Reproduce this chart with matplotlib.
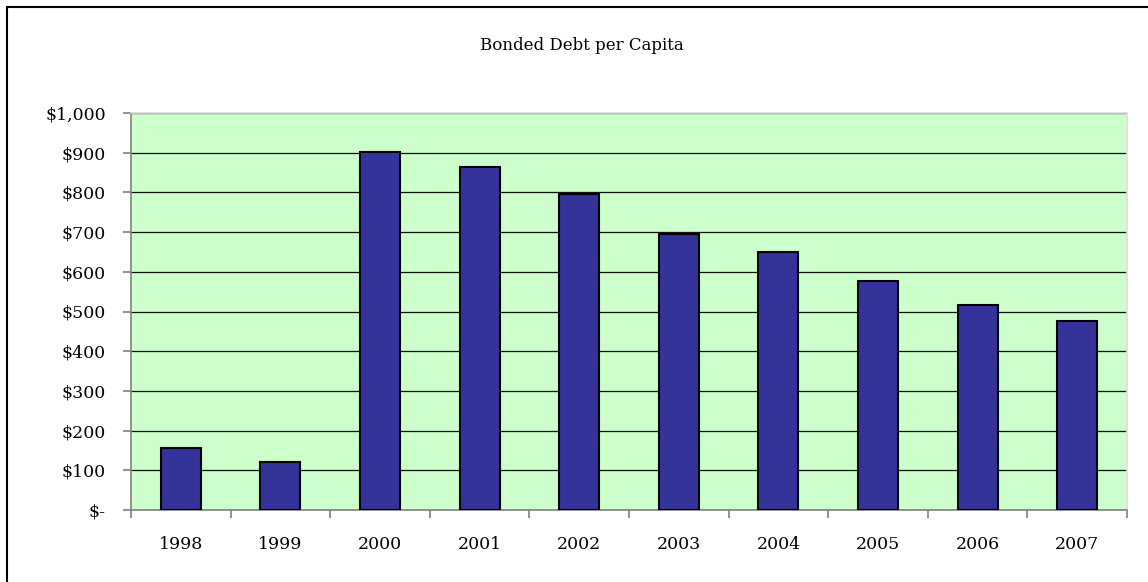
import matplotlib.pyplot as plt
import matplotlib.ticker as mticker
from matplotlib.patches import Rectangle
import numpy as np

# bonded debt per capita by year
years = ['1998', '1999', '2000', '2001', '2002', '2003', '2004', '2005', '2006', '2007']
debt = [157, 121, 901, 863, 795, 696, 651, 578, 517, 476]

plt.rcParams['font.family'] = ['DejaVu Serif']

W, H = 1148, 582
fig = plt.figure(figsize=(W / 100, H / 100), dpi=100)

# chart area border (runs off the right and bottom edges)
fig.patches.append(Rectangle((7 / W, -0.05), 1.2, 1 - 7 / H + 0.05,
                             transform=fig.transFigure, fill=False,
                             edgecolor='black', linewidth=1.5))

ax = fig.add_axes([131 / W, 1 - 510 / H, (1127 - 131) / W, (510 - 113) / H])
ax.set_facecolor('#CCFFCC')

x = np.arange(len(years))
ax.bar(x, debt, width=0.4, color='#333399', edgecolor='black', linewidth=1.5, zorder=3)

ax.set_xlim(-0.5, len(years) - 0.5)
ax.set_ylim(0, 1000)

ax.set_yticks(np.arange(0, 1001, 100))
ax.yaxis.set_major_formatter(mticker.FuncFormatter(
    lambda v, p: '$-' if v == 0 else '${:,.0f}'.format(v)))
ax.yaxis.grid(True, color='#111111', linewidth=0.9, zorder=1)
ax.set_axisbelow(True)

ax.set_xticks(x)
ax.set_xticklabels(years)
ax.set_xticks(np.arange(-0.5, len(years), 1), minor=True)
ax.tick_params(axis='x', which='major', length=0, pad=19, labelsize=12.5)
ax.tick_params(axis='x', which='minor', length=6, color='#808080', width=1.2)
ax.tick_params(axis='y', length=6, color='#808080', width=1.2, labelsize=12.5, pad=12)

for side in ['left', 'bottom']:
    ax.spines[side].set_color('#808080')
    ax.spines[side].set_linewidth(1.2)
for side in ['top', 'right']:
    ax.spines[side].set_color('#DDDDDD')
    ax.spines[side].set_linewidth(1.2)

fig.text(582 / W, 1 - 46 / H, 'Bonded Debt per Capita', ha='center', va='center', fontsize=12)

fig.savefig('out.png', dpi=100)
